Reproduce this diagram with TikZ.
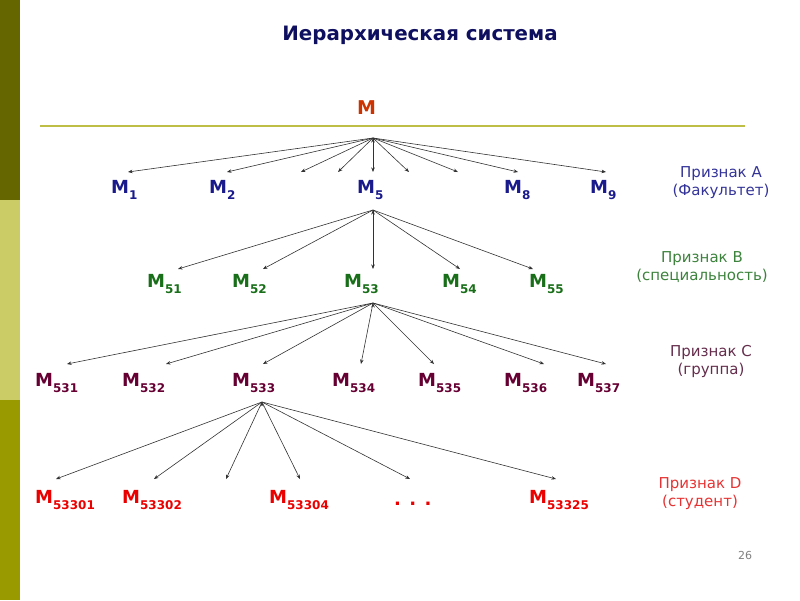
\documentclass[tikz,border=0pt]{standalone}
\usepackage{fontspec}
\setmainfont{DejaVu Sans}
\usetikzlibrary{arrows.meta}

\definecolor{titlec}{RGB}{15,15,95}
\definecolor{rootc}{RGB}{204,51,0}
\definecolor{lvlA}{RGB}{26,26,140}
\definecolor{lvlB}{RGB}{25,110,25}
\definecolor{lvlC}{RGB}{102,0,51}
\definecolor{lvlD}{RGB}{235,0,0}
\definecolor{noteA}{RGB}{51,51,153}
\definecolor{noteB}{RGB}{60,130,60}
\definecolor{noteC}{RGB}{100,45,75}
\definecolor{noteD}{RGB}{230,50,50}
\definecolor{rulec}{RGB}{190,190,70}
\definecolor{busc}{RGB}{50,50,50}
\definecolor{barA}{RGB}{102,102,0}
\definecolor{barB}{RGB}{204,204,102}
\definecolor{barC}{RGB}{153,153,0}

% M with a lowered index
\newcommand{\Msub}[1]{M\raisebox{-6pt}{\fontsize{12}{12}\selectfont #1}}

\begin{document}
\begin{tikzpicture}[
      x=1pt, y=-1pt,
      >={Stealth[length=4.5pt, width=3.5pt]},
      title/.style={font=\bfseries\fontsize{19.8}{20}\selectfont, text=titlec},
      lvl/.style={anchor=base west, inner sep=0pt, font=\bfseries\fontsize{18}{18}\selectfont},
      note/.style={align=center, inner sep=0pt, font=\fontsize{15}{18}\selectfont},
      bus/.style={->, draw=busc, line width=0.6pt}
    ]

    \useasboundingbox (0,0) rectangle (800,600);

    % side band
    \fill[barA] (0,0) rectangle (20,200);
    \fill[barB] (0,200) rectangle (20,400);
    \fill[barC] (0,400) rectangle (20,600);

    \node[title] (title) at (420,35) {Иерархическая система};

    \node[lvl, text=rootc, font=\bfseries\fontsize{19}{19}\selectfont] (M) at (357,114) {M};
    \draw[rulec, line width=2pt] (40,126) -- (745,126);

    % level A
    \node[lvl, text=lvlA] (M1) at (111,193) {\Msub{1}};
    \node[lvl, text=lvlA] (M2) at (209,193) {\Msub{2}};
    \node[lvl, text=lvlA] (M5) at (357,193) {\Msub{5}};
    \node[lvl, text=lvlA] (M8) at (504,193) {\Msub{8}};
    \node[lvl, text=lvlA] (M9) at (590,193) {\Msub{9}};

    % level B
    \node[lvl, text=lvlB] (M51) at (147,287) {\Msub{51}};
    \node[lvl, text=lvlB] (M52) at (232,287) {\Msub{52}};
    \node[lvl, text=lvlB] (M53) at (344,287) {\Msub{53}};
    \node[lvl, text=lvlB] (M54) at (442,287) {\Msub{54}};
    \node[lvl, text=lvlB] (M55) at (529,287) {\Msub{55}};

    % level C
    \node[lvl, text=lvlC] (M531) at (35,386) {\Msub{531}};
    \node[lvl, text=lvlC] (M532) at (122,386) {\Msub{532}};
    \node[lvl, text=lvlC] (M533) at (232,386) {\Msub{533}};
    \node[lvl, text=lvlC] (M534) at (332,386) {\Msub{534}};
    \node[lvl, text=lvlC] (M535) at (418,386) {\Msub{535}};
    \node[lvl, text=lvlC] (M536) at (504,386) {\Msub{536}};
    \node[lvl, text=lvlC] (M537) at (577,386) {\Msub{537}};

    % level D
    \node[lvl, text=lvlD] (M53301) at (35,503) {\Msub{53301}};
    \node[lvl, text=lvlD] (M53302) at (122,503) {\Msub{53302}};
    \node[lvl, text=lvlD] (M53304) at (269,503) {\Msub{53304}};
    \node[lvl, text=lvlD] (dots) at (394,505) {. . .};
    \node[lvl, text=lvlD] (M53325) at (529,503) {\Msub{53325}};

    % signs
    \node[note, text=noteA] (signA) at (721,183) {Признак A\\(Факультет)};
    \node[note, text=noteB] (signB) at (702,267) {Признак B\\(специальность)};
    \node[note, text=noteC] (signC) at (711,361) {Признак C\\(группа)};
    \node[note, text=noteD] (signD) at (700,494) {Признак D\\(студент)};

    \node[text=gray, font=\fontsize{11}{11}\selectfont] (page) at (745,555) {26};

    % fan points
    \coordinate (from-M) at (373,138);
    \coordinate (from-M5) at (373,210);
    \coordinate (from-M53) at (373,303);
    \coordinate (from-M533) at (262,402);

    \coordinate (to-M1) at (128,172);
    \coordinate (to-M2) at (227,172);
    \coordinate (to-M3) at (301,172);
    \coordinate (to-M4) at (338,172);
    \coordinate (to-M5) at (373,172);
    \coordinate (to-M6) at (409,172);
    \coordinate (to-M7) at (458,172);
    \coordinate (to-M8) at (518,172);
    \coordinate (to-M9) at (606,172);

    \coordinate (to-M51) at (178,269);
    \coordinate (to-M52) at (263,269);
    \coordinate (to-M53) at (373,269);
    \coordinate (to-M54) at (460,269);
    \coordinate (to-M55) at (533,269);

    \coordinate (to-M531) at (67,364);
    \coordinate (to-M532) at (166,364);
    \coordinate (to-M533) at (263,364);
    \coordinate (to-M534) at (361,364);
    \coordinate (to-M535) at (434,364);
    \coordinate (to-M536) at (544,364);
    \coordinate (to-M537) at (606,364);

    \coordinate (to-M53301) at (56,479);
    \coordinate (to-M53302) at (154,479);
    \coordinate (to-M53303) at (226,479);
    \coordinate (to-M53304) at (300,479);
    \coordinate (to-dots) at (410,479);
    \coordinate (to-M53325) at (556,479);

    \path[bus] (from-M) edge (to-M1) edge (to-M2) edge (to-M3) edge (to-M4) edge (to-M5)
      edge (to-M6) edge (to-M7) edge (to-M8) edge (to-M9);
    \path[bus] (from-M5) edge (to-M51) edge (to-M52) edge (to-M53) edge (to-M54) edge (to-M55);
    \path[bus] (from-M53) edge (to-M531) edge (to-M532) edge (to-M533) edge (to-M534)
      edge (to-M535) edge (to-M536) edge (to-M537);
    \path[bus] (from-M533) edge (to-M53301) edge (to-M53302) edge (to-M53303)
      edge (to-M53304) edge (to-dots) edge (to-M53325);

  \end{tikzpicture}
\end{document}
